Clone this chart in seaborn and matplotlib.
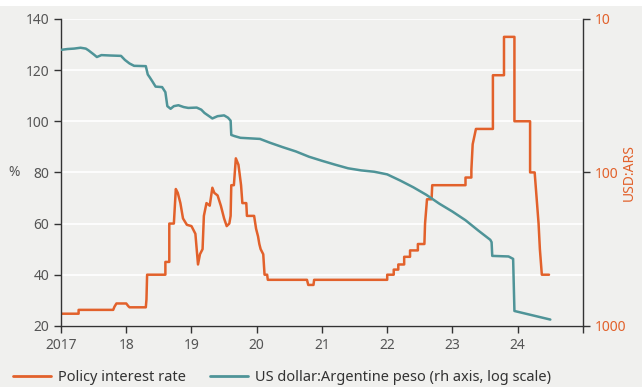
"""
Argentina: policy interest rate vs US dollar:Argentine peso.
"""

import matplotlib

matplotlib.use("Agg")
import matplotlib.pyplot as plt
import matplotlib.ticker as mticker
import pandas as pd
import seaborn as sns
from matplotlib.lines import Line2D
from matplotlib.patches import Rectangle

# policy interest rate, %
rate_dates = [
    2017.0, 2017.27, 2017.27, 2017.8, 2017.82, 2017.85, 2018.0, 2018.03, 2018.05, 2018.3,
    2018.31, 2018.32, 2018.6, 2018.6, 2018.66, 2018.66, 2018.73, 2018.76, 2018.79, 2018.83,
    2018.87, 2018.93, 2019.0, 2019.06, 2019.1, 2019.13, 2019.17, 2019.19, 2019.23, 2019.28,
    2019.32, 2019.35, 2019.4, 2019.45, 2019.5, 2019.54, 2019.58, 2019.6, 2019.61, 2019.65,
    2019.68, 2019.72, 2019.76, 2019.78, 2019.84, 2019.85, 2019.96, 2019.99, 2020.02, 2020.04,
    2020.06, 2020.1, 2020.12, 2020.16, 2020.17, 2020.77, 2020.79, 2020.87, 2020.88, 2022.0,
    2022.0, 2022.1, 2022.1, 2022.17, 2022.17, 2022.26, 2022.26, 2022.35, 2022.35, 2022.47,
    2022.47, 2022.57, 2022.58, 2022.61, 2022.68, 2022.69, 2023.2, 2023.2, 2023.29, 2023.29,
    2023.31, 2023.36, 2023.62, 2023.62, 2023.79, 2023.79, 2023.95, 2023.95, 2024.19, 2024.19,
    2024.26, 2024.29, 2024.32, 2024.34, 2024.37, 2024.48,
]
rate_values = [
    24.75, 24.75, 26.25, 26.25, 27.5, 28.75, 28.75, 27.75, 27.25, 27.25,
    30.25, 40, 40, 45, 45, 60, 60, 73.5, 72, 68,
    62, 59.5, 59, 56, 44, 48, 50, 63, 68, 67,
    74, 72, 71, 67, 62, 59, 60, 63, 75, 75,
    85.5, 83, 75, 68, 68, 63, 63, 58, 55, 52,
    50, 48, 40, 40, 38, 38, 36, 36, 38, 38,
    40, 40, 42, 42, 44, 44, 47, 47, 49.5, 49.5,
    52, 52, 60, 69.5, 69.5, 75, 75, 78, 78, 81,
    91, 97, 97, 118, 118, 133, 133, 100, 100, 80,
    80, 70, 60, 50, 40, 40,
]

# pesos per US dollar (rh axis, log, inverted)
fx_dates = [
    2017.0, 2017.1, 2017.2, 2017.3, 2017.38, 2017.42, 2017.5, 2017.55, 2017.62, 2017.75,
    2017.92, 2017.98, 2018.05, 2018.12, 2018.3, 2018.33, 2018.36, 2018.4, 2018.45, 2018.55,
    2018.6, 2018.63, 2018.68, 2018.73, 2018.8, 2018.88, 2018.95, 2019.08, 2019.15, 2019.2,
    2019.27, 2019.32, 2019.4, 2019.5, 2019.56, 2019.6, 2019.61, 2019.66, 2019.75, 2019.9,
    2020.05, 2020.2, 2020.4, 2020.6, 2020.8, 2021.0, 2021.2, 2021.4, 2021.6, 2021.8,
    2022.0, 2022.2, 2022.4, 2022.6, 2022.8, 2023.0, 2023.2, 2023.4, 2023.58, 2023.6,
    2023.61, 2023.86, 2023.93, 2023.95, 2024.5,
]
fx_values = [
    15.9, 15.7, 15.6, 15.4, 15.6, 16.0, 17.0, 17.7, 17.2, 17.3,
    17.4, 18.5, 19.5, 20.2, 20.3, 23.0, 24.0, 25.5, 27.6, 27.8,
    30, 37, 38.5, 37.0, 36.5, 37.5, 38, 37.8, 39, 41,
    43, 44.5, 43, 42.5, 44, 46, 57, 58, 59.5, 60,
    60.5, 64, 68.5, 73, 79, 84, 89, 94, 97, 99,
    103, 113, 125, 140, 160, 180, 205, 240, 275, 285,
    350, 353, 366, 800, 910,
]

left_ticks = [20, 40, 60, 80, 100, 120, 140]
right_ticks = [10, 100, 1000]
year_ticks = [2017, 2018, 2019, 2020, 2021, 2022, 2023, 2024, 2025]
year_labels = ["2017", "18", "19", "20", "21", "22", "23", "24", ""]

ORANGE = "#e2612b"
TEAL = "#4f9498"
BG = "#f0f0ee"
INK = "#333333"
GREY = "#555555"

sns.set_theme(style="white")
plt.rcParams["font.family"] = ["Noto Sans", "DejaVu Sans"]

rate = pd.DataFrame({"year": rate_dates, "rate": rate_values})
fx = pd.DataFrame({"year": fx_dates, "usdars": fx_values})

fig = plt.figure(figsize=(6.42, 3.87), dpi=100, facecolor=BG)
fig.patches.append(Rectangle((0, 0.985), 1, 0.015, transform=fig.transFigure,
                             facecolor="white", edgecolor="none", zorder=0))
ax = fig.add_axes([0.095, 0.158, 0.813, 0.793])
ax.set_facecolor(BG)
ax2 = ax.twinx()

sns.lineplot(data=rate, x="year", y="rate", estimator=None, sort=False,
             color=ORANGE, linewidth=1.8, ax=ax)
sns.lineplot(data=fx, x="year", y="usdars", estimator=None, sort=False,
             color=TEAL, linewidth=1.8, ax=ax2)

ax.set_xlim(2017, 2025)
ax.set_ylim(20, 140)
ax.set_yticks(left_ticks)
ax.set_xticks(year_ticks)
ax.set_xticklabels(year_labels)
ax.set_axisbelow(True)
ax.grid(axis="y", color="white", linewidth=1.2)
ax.grid(axis="x", visible=False)
ax.set_xlabel("")
ax.set_ylabel("%", rotation=0, fontsize=10, color=GREY, va="center", ha="center")
ax.yaxis.set_label_coords(-0.09, 0.5)

ax2.set_yscale("log")
ax2.set_ylim(1000, 10)
ax2.set_yticks(right_ticks)
ax2.yaxis.set_major_formatter(mticker.FuncFormatter(lambda v, p: f"{v:g}"))
ax2.yaxis.set_minor_locator(mticker.NullLocator())
ax2.set_ylabel("USD:ARS", color=ORANGE, fontsize=10, va="center")
ax2.yaxis.set_label_coords(1.088, 0.5)
ax2.set_xlabel("")
ax2.grid(False)

for a in (ax, ax2):
    for side in a.spines:
        a.spines[side].set_visible(False)
ax.spines["left"].set_visible(True)
ax.spines["bottom"].set_visible(True)
ax2.spines["right"].set_visible(True)
for sp in (ax.spines["left"], ax.spines["bottom"], ax2.spines["right"]):
    sp.set_color(INK)
    sp.set_linewidth(1.0)

ax.tick_params(axis="both", direction="out", length=5, width=1.0, color=INK,
               labelsize=10, labelcolor=GREY, left=True, bottom=True)
ax2.tick_params(axis="y", direction="out", length=5, width=1.0, color=INK,
                labelsize=10, labelcolor=ORANGE, right=True)

handles = [Line2D([], [], color=ORANGE, linewidth=2.0),
           Line2D([], [], color=TEAL, linewidth=2.0)]
fig.legend(handles, ["Policy interest rate", "US dollar:Argentine peso (rh axis, log scale)"],
           loc="lower left", bbox_to_anchor=(0.0, -0.03), ncol=2, frameon=False,
           fontsize=10.5, handlelength=2.6, columnspacing=1.6, handletextpad=0.5,
           labelcolor=INK)

fig.savefig("out.png", dpi=100, facecolor=BG)
